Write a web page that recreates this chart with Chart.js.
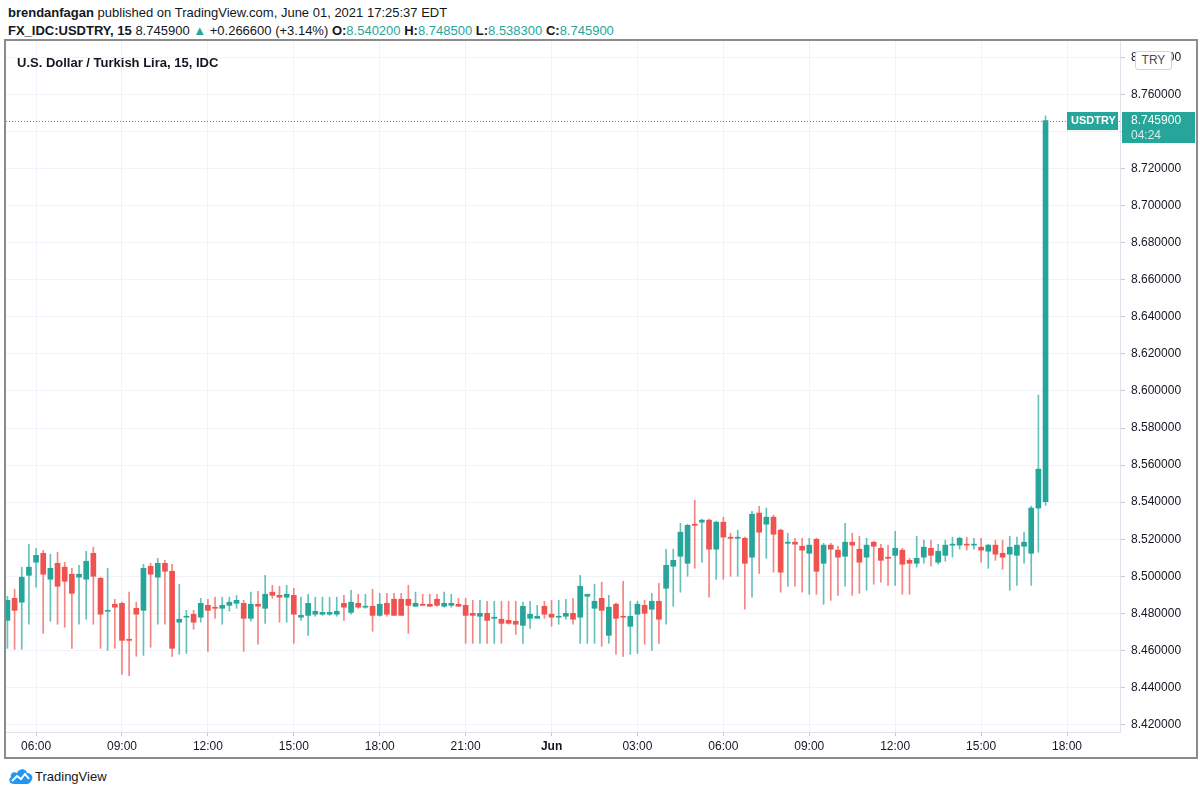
<!DOCTYPE html>
<html>
<head>
<meta charset="utf-8">
<script src="https://cdn.jsdelivr.net/npm/chart.js@4.4.0/dist/chart.umd.min.js"></script>
<style>
body{margin:0;background:#fff;width:1200px;height:796px;overflow:hidden;font-family:"Liberation Sans",Arial,sans-serif;color:#131722;position:relative}
.hdr{position:absolute;left:8px;font-size:13px;white-space:nowrap}
#h1{top:5px}
#h2{top:23px}
.g{color:#26a69a}
#frame{position:absolute;left:4px;top:39px;width:1190px;height:716px;border:2px solid #8c8c8c}
#chart{position:absolute;left:0;top:0}
#title{position:absolute;left:11px;top:14px;font-size:13px;font-weight:bold}
#try{position:absolute;left:1129px;top:10px;width:35px;height:17px;border:1px solid #d1d4dc;border-radius:3px;background:#fff;font-size:12px;line-height:17px;text-align:center;color:#4a4a4a}
#logo{position:absolute;left:8px;top:767px;font-size:13px;display:flex;align-items:center}
</style>
</head>
<body>
<div class="hdr" id="h1"><b>brendanfagan</b> published on TradingView.com, June 01, 2021 17:25:37 EDT</div>
<div class="hdr" id="h2"><b>FX_IDC:USDTRY, 15</b> 8.745900 <span class="g">▲</span> +0.266600 (+3.14%) <b>O:</b><span class="g">8.540200</span> <b>H:</b><span class="g">8.748500</span> <b>L:</b><span class="g">8.538300</span> <b>C:</b><span class="g">8.745900</span></div>
<div id="frame">
  <canvas id="chart" width="1190" height="716"></canvas>
  <div id="title">U.S. Dollar / Turkish Lira, 15, IDC</div>
  <div id="try">TRY</div>
</div>
<div id="logo">
  <svg width="26" height="18" viewBox="0 0 26 18"><path d="M6 17 C1 17 0 12 3 10 C2 6 6 4 9 6 C11 1 18 1 19 6 C24 6 26 11 23 14 C22 16 21 17 19 17 Z" fill="#2196f3"/><polyline points="4,14 9,9 13,12 17,7 21,12" fill="none" stroke="#fff" stroke-width="2"/></svg>
  <span style="margin-left:1px">TradingView</span>
</div>
<script>
// 15 min candles, 31 May 05:00 -> 01 Jun 17:15
const opens = [8.4762,8.4881,8.4860,8.5005,8.5076,8.5124,8.4984,8.5070,8.5049,8.5011,
  8.4995,8.4984,8.5124,8.4989,8.4811,8.4849,8.4854,8.4660,8.4827,8.4816,
  8.5054,8.4995,8.5070,8.5027,8.4752,8.4779,8.4795,8.4779,8.4843,8.4833,
  8.4827,8.4843,8.4854,8.4854,8.4773,8.4849,8.4827,8.4914,8.4897,8.4887,
  8.4897,8.4779,8.4789,8.4795,8.4795,8.4795,8.4795,8.4854,8.4805,8.4854,
  8.4833,8.4838,8.4789,8.4854,8.4876,8.4876,8.4876,8.4838,8.4849,8.4849,
  8.4876,8.4838,8.4843,8.4849,8.4843,8.4800,8.4784,8.4800,8.4773,8.4768,
  8.4762,8.4757,8.4735,8.4773,8.4773,8.4838,8.4795,8.4779,8.4784,8.4800,
  8.4779,8.4892,8.4827,8.4881,8.4681,8.4849,8.4784,8.4730,8.4795,8.4843,
  8.4822,8.4865,8.4935,8.5054,8.5108,8.5070,8.5281,8.5292,8.5303,8.5146,
  8.5292,8.5211,8.5205,8.5205,8.5103,8.5341,8.5281,8.5319,8.5249,8.5178,
  8.5184,8.5162,8.5124,8.5200,8.5070,8.5168,8.5141,8.5108,8.5184,8.5146,
  8.5103,8.5184,8.5151,8.5103,8.5113,8.5141,8.5086,8.5070,8.5103,8.5151,
  8.5076,8.5113,8.5168,8.5168,8.5173,8.5168,8.5157,8.5135,8.5168,8.5124,
  8.5119,8.5113,8.5162,8.5124,8.5368,8.5402];
const highs = [8.4892,8.4930,8.5049,8.5173,8.5151,8.5140,8.5119,8.5130,8.5076,8.5043,
  8.5059,8.5135,8.5157,8.4995,8.5043,8.4876,8.4860,8.4914,8.4860,8.5065,
  8.5070,8.5097,8.5086,8.5065,8.4957,8.4816,8.4816,8.4881,8.4876,8.4887,
  8.4887,8.4887,8.4897,8.4870,8.4914,8.4919,8.5005,8.4951,8.4946,8.4951,
  8.4935,8.4887,8.4903,8.4887,8.4887,8.4887,8.4887,8.4897,8.4924,8.4903,
  8.4903,8.4930,8.4908,8.4908,8.4908,8.4908,8.4951,8.4914,8.4903,8.4903,
  8.4903,8.4914,8.4903,8.4881,8.4881,8.4870,8.4870,8.4865,8.4865,8.4865,
  8.4865,8.4865,8.4860,8.4865,8.4843,8.4865,8.4870,8.4870,8.4876,8.4881,
  8.5005,8.4903,8.4957,8.4968,8.4897,8.4855,8.4973,8.4865,8.4865,8.4870,
  8.4908,8.4962,8.5146,8.5146,8.5286,8.5281,8.5411,8.5308,8.5308,8.5297,
  8.5319,8.5232,8.5249,8.5211,8.5351,8.5378,8.5368,8.5330,8.5254,8.5232,
  8.5205,8.5205,8.5205,8.5205,8.5178,8.5178,8.5162,8.5286,8.5232,8.5216,
  8.5205,8.5189,8.5173,8.5168,8.5243,8.5151,8.5097,8.5216,8.5195,8.5195,
  8.5173,8.5195,8.5211,8.5211,8.5211,8.5205,8.5205,8.5173,8.5195,8.5195,
  8.5216,8.5211,8.5238,8.5378,8.5978,8.7485];
const lows = [8.4611,8.4606,8.4606,8.4741,8.4941,8.4692,8.4757,8.4741,8.4725,8.4611,
  8.4741,8.4768,8.4741,8.4611,8.4600,8.4611,8.4470,8.4464,8.4568,8.4573,
  8.4617,8.4741,8.4741,8.4568,8.4579,8.4584,8.4714,8.4752,8.4595,8.4773,
  8.4741,8.4811,8.4827,8.4595,8.4757,8.4633,8.4746,8.4881,8.4752,8.4752,
  8.4638,8.4762,8.4681,8.4784,8.4789,8.4789,8.4784,8.4762,8.4795,8.4827,
  8.4827,8.4703,8.4784,8.4784,8.4789,8.4789,8.4692,8.4838,8.4843,8.4838,
  8.4838,8.4833,8.4833,8.4838,8.4638,8.4638,8.4638,8.4638,8.4638,8.4638,
  8.4741,8.4687,8.4638,8.4719,8.4773,8.4773,8.4730,8.4741,8.4768,8.4741,
  8.4638,8.4638,8.4638,8.4622,8.4638,8.4579,8.4568,8.4579,8.4584,8.4633,
  8.4600,8.4638,8.4741,8.4838,8.4914,8.5000,8.5043,8.5076,8.4887,8.4984,
  8.4984,8.5000,8.5000,8.4822,8.4887,8.5016,8.5097,8.5022,8.4914,8.4946,
  8.4946,8.4914,8.4903,8.4903,8.4849,8.4870,8.4897,8.4946,8.4897,8.4908,
  8.4924,8.4957,8.4968,8.4951,8.4951,8.4903,8.4903,8.5049,8.5070,8.5054,
  8.5065,8.5081,8.5103,8.5146,8.5141,8.5146,8.5076,8.5043,8.5086,8.5038,
  8.4924,8.4951,8.5070,8.4951,8.5130,8.5383];
const closes = [8.4870,8.4816,8.4995,8.5049,8.5113,8.5011,8.5043,8.4946,8.4973,8.4908,
  8.5011,8.5081,8.5000,8.4795,8.4816,8.4833,8.4654,8.4654,8.4795,8.5043,
  8.5011,8.5070,8.5027,8.4611,8.4768,8.4784,8.4752,8.4854,8.4816,8.4827,
  8.4843,8.4860,8.4870,8.4773,8.4849,8.4838,8.4903,8.4897,8.4887,8.4903,
  8.4795,8.4789,8.4854,8.4811,8.4805,8.4805,8.4811,8.4833,8.4860,8.4833,
  8.4838,8.4789,8.4849,8.4795,8.4789,8.4789,8.4843,8.4854,8.4843,8.4838,
  8.4843,8.4854,8.4854,8.4838,8.4789,8.4789,8.4800,8.4762,8.4779,8.4746,
  8.4746,8.4741,8.4838,8.4795,8.4784,8.4795,8.4779,8.4784,8.4800,8.4768,
  8.4946,8.4903,8.4865,8.4816,8.4833,8.4773,8.4779,8.4784,8.4849,8.4800,
  8.4865,8.4768,8.5059,8.5086,8.5238,8.5275,8.5275,8.5303,8.5146,8.5292,
  8.5211,8.5205,8.5211,8.5070,8.5335,8.5238,8.5319,8.5227,8.5022,8.5184,
  8.5173,8.5141,8.5168,8.5027,8.5168,8.5146,8.5103,8.5184,8.5168,8.5076,
  8.5168,8.5162,8.5086,8.5097,8.5151,8.5065,8.5070,8.5097,8.5157,8.5113,
  8.5135,8.5168,8.5173,8.5205,8.5168,8.5173,8.5141,8.5168,8.5119,8.5103,
  8.5157,8.5168,8.5184,8.5368,8.5578,8.7459];

// time axis: candle index -> label
const tickIdx = [4, 16, 28, 40, 52, 64, 76, 88, 100, 112, 124, 136, 148];
const tickLabels = ['06:00','09:00','12:00','15:00','18:00','21:00','Jun','03:00','06:00','09:00','12:00','15:00','18:00'];
const priceTicks = [8.42,8.44,8.46,8.48,8.50,8.52,8.54,8.56,8.58,8.60,8.62,8.64,8.66,8.68,8.70,8.72,8.74,8.76,8.78];

const UP = '#26a69a', DOWN = '#ef5350';
const isUp = closes.map((c, i) => c >= opens[i]);
const lastClose = closes[closes.length - 1];

const lastPrice = {
  id: 'lastPrice',
  beforeDatasetsDraw(chart) {
    const {ctx, chartArea, scales: {y}} = chart;
    const py = Math.round(y.getPixelForValue(lastClose)) + 0.5;
    ctx.save();
    ctx.strokeStyle = UP;
    ctx.lineWidth = 1;
    ctx.setLineDash([1, 2]);
    ctx.beginPath();
    ctx.moveTo(chartArea.left, py);
    ctx.lineTo(chartArea.right, py);
    ctx.stroke();
    ctx.restore();
  },
  afterDraw(chart) {
    const {ctx, chartArea, scales: {y}} = chart;
    const py = Math.round(y.getPixelForValue(lastClose));
    ctx.save();
    ctx.fillStyle = UP;
    ctx.fillRect(chartArea.right - 53, py - 9, 51, 18);
    ctx.fillRect(chartArea.right + 2, py - 9, chart.width - chartArea.right - 3, 31);
    ctx.fillStyle = '#fff';
    ctx.textBaseline = 'middle';
    ctx.font = 'bold 11px "Liberation Sans", Arial';
    ctx.fillText('USDTRY', chartArea.right - 49, py);
    ctx.font = '12px "Liberation Sans", Arial';
    ctx.fillText(lastClose.toFixed(6), chartArea.right + 11, py);
    ctx.fillStyle = 'rgba(255,255,255,0.8)';
    ctx.fillText('04:24', chartArea.right + 11, py + 15);
    ctx.restore();
  }
};

new Chart(document.getElementById('chart'), {
  type: 'bar',
  data: {
    datasets: [{
      // bodies (drawn on top)
      data: opens.map((o, i) => ({x: i, y: [o, closes[i]]})),
      backgroundColor: isUp.map(u => u ? UP : DOWN),
      barThickness: 5,
      minBarLength: 1,
      grouped: false
    }, {
      // wicks
      data: lows.map((l, i) => ({x: i, y: [l, highs[i]]})),
      backgroundColor: isUp.map(u => u ? 'rgba(38,166,154,0.7)' : 'rgba(239,83,80,0.7)'),
      barThickness: 1,
      grouped: false
    }]
  },
  options: {
    responsive: false,
    animation: false,
    devicePixelRatio: 1,
    layout: {padding: 0},
    plugins: {legend: {display: false}, tooltip: {enabled: false}},
    scales: {
      x: {
        type: 'linear',
        offset: false,
        min: -0.2,
        max: 155.4,
        afterBuildTicks: s => { s.ticks = tickIdx.map(v => ({value: v})); },
        afterFit: s => { s.height = 25; s.paddingLeft = 0; s.paddingRight = 0; },
        grid: {offset: false, color: '#f0f3fa', tickLength: 4, tickColor: '#c8c8c8'},
        border: {color: '#e0e3eb'},
        ticks: {
          autoSkip: false,
          maxRotation: 0,
          padding: 3,
          color: '#131722',
          font: c => ({family: '"Liberation Sans", Arial', size: 12, weight: c.tick && c.tick.label === 'Jun' ? 'bold' : 'normal'}),
          callback: v => tickLabels[tickIdx.indexOf(v)]
        }
      },
      y: {
        position: 'right',
        min: 8.41594,
        max: 8.78891,
        afterBuildTicks: s => { s.ticks = priceTicks.map(v => ({value: v})); },
        afterFit: s => { s.width = 76; s.paddingTop = 0; s.paddingBottom = 0; },
        grid: {color: '#f0f3fa', tickLength: 5, tickColor: '#c8c8c8'},
        border: {color: '#e0e3eb'},
        ticks: {
          padding: 6,
          color: '#131722',
          font: {family: '"Liberation Sans", Arial', size: 12},
          callback: v => v.toFixed(6)
        }
      }
    }
  },
  plugins: [lastPrice]
});
</script>
</body>
</html>
